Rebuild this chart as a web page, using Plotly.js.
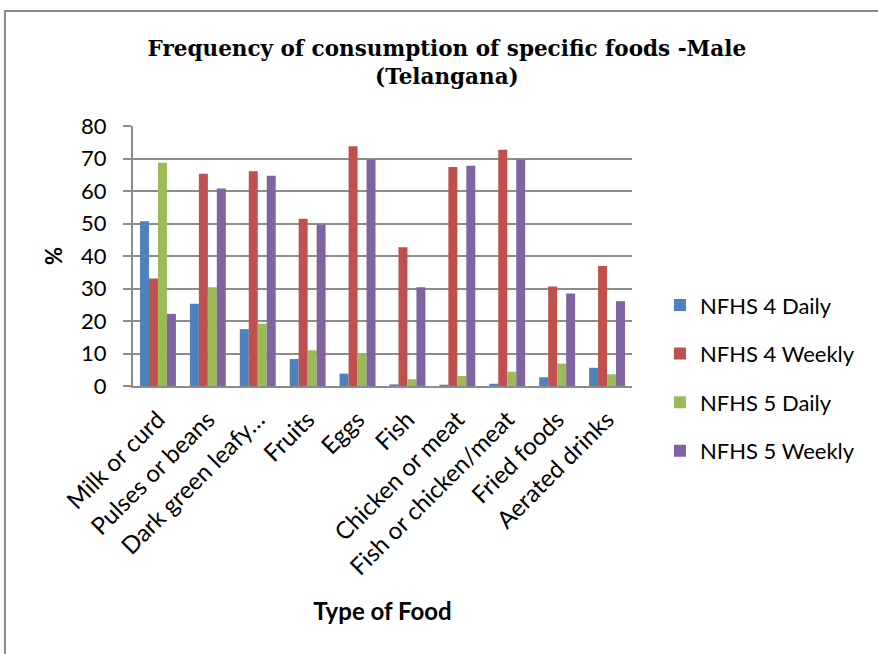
<!DOCTYPE html>
<html>
<head>
<meta charset="utf-8">
<script src="https://cdn.plot.ly/plotly-3.0.1.min.js"></script>
<style>
html,body{margin:0;padding:0;background:#fff;overflow:hidden;}
#chart{position:absolute;left:0;top:0;width:878px;height:654px;}
#frame{position:absolute;left:4px;top:10px;width:900px;height:700px;border:2px solid #8c8c8c;box-sizing:border-box;pointer-events:none;}
</style>
</head>
<body>
<div id="chart"></div>
<div id="frame"></div>
<script>
const categories = ["Milk or curd","Pulses or beans","Dark green leafy…","Fruits","Eggs","Fish","Chicken or meat","Fish or chicken/meat","Fried foods","Aerated drinks"];
const seriesNames = ["NFHS 4 Daily","NFHS 4 Weekly","NFHS 5 Daily","NFHS 5 Weekly"];
const nfhs4Daily  = [50.7, 25.3, 17.5, 8.3, 3.8, 0.5, 0.4, 0.7, 2.7, 5.6];
const nfhs4Weekly = [33.1, 65.3, 66.1, 51.5, 73.8, 42.7, 67.4, 72.7, 30.6, 36.9];
const nfhs5Daily  = [68.7, 30.4, 19.2, 11.0, 10.1, 2.1, 3.1, 4.4, 6.9, 3.6];
const nfhs5Weekly = [22.2, 60.8, 64.7, 49.6, 69.7, 30.4, 67.8, 69.7, 28.5, 26.1];
const colors = ["#4F81BD","#C0504D","#9BBB59","#8064A2"];
const yTicks = [0,10,20,30,40,50,60,70,80];

const allSeries = [nfhs4Daily, nfhs4Weekly, nfhs5Daily, nfhs5Weekly];
const traces = allSeries.map((vals, i) => ({
  type: "bar",
  name: seriesNames[i],
  x: categories,
  y: vals,
  legendgroup: "g" + i,
  marker: {color: colors[i], line: {width: 0}},
  hoverinfo: "x+y+name"
}));

const font = "Lato, 'Open Sans', 'Noto Sans', sans-serif";
const layout = {
  width: 878, height: 654,
  margin: {l: 133, r: 246, t: 126, b: 268, pad: 0},
  paper_bgcolor: "#ffffff",
  plot_bgcolor: "#ffffff",
  barmode: "group",
  bargap: 0.28,
  bargroupgap: 0,
  title: {
    text: "<b>Frequency of consumption of specific foods -Male<br>(Telangana)</b>",
    font: {family: "'DejaVu Serif', serif", size: 21.5, color: "#000"},
    x: 0.629, xref: "paper", xanchor: "center",
    y: 0.915, yref: "container", yanchor: "middle"
  },
  xaxis: {
    type: "category",
    showline: true, linecolor: "#8c8c8c", linewidth: 2,
    ticks: "", tickangle: -45,
    ticklabelstandoff: 8,
    tickfont: {family: font, size: 24, color: "#000"},
    showgrid: false, zeroline: false,
    title: {text: "<b>Type of Food</b>", font: {family: font, size: 24, color: "#000"}, standoff: 24},
    automargin: false
  },
  yaxis: {
    range: [0, 80],
    tickvals: yTicks,
    ticktext: yTicks.map(String),
    showline: true, linecolor: "#8c8c8c", linewidth: 2,
    ticks: "outside", ticklen: 8, tickcolor: "#8c8c8c", tickwidth: 2,
    ticklabelstandoff: 12,
    tickfont: {family: font, size: 22, color: "#000"},
    showgrid: true, gridcolor: "#8c8c8c", gridwidth: 2,
    zeroline: false,
    title: {text: "<b>%</b>", font: {family: font, size: 22, color: "#000"}, standoff: 12},
    automargin: false
  },
  legend: {
    x: 1.056, xanchor: "left",
    y: 0.03, yanchor: "middle", yref: "paper",
    font: {family: font, size: 22, color: "#000"},
    traceorder: "grouped",
    tracegroupgap: 17,
    itemwidth: 30,
    bgcolor: "rgba(0,0,0,0)"
  },
  showlegend: true
};

Plotly.newPlot("chart", traces, layout, {displayModeBar: false, staticPlot: true});
</script>
</body>
</html>
